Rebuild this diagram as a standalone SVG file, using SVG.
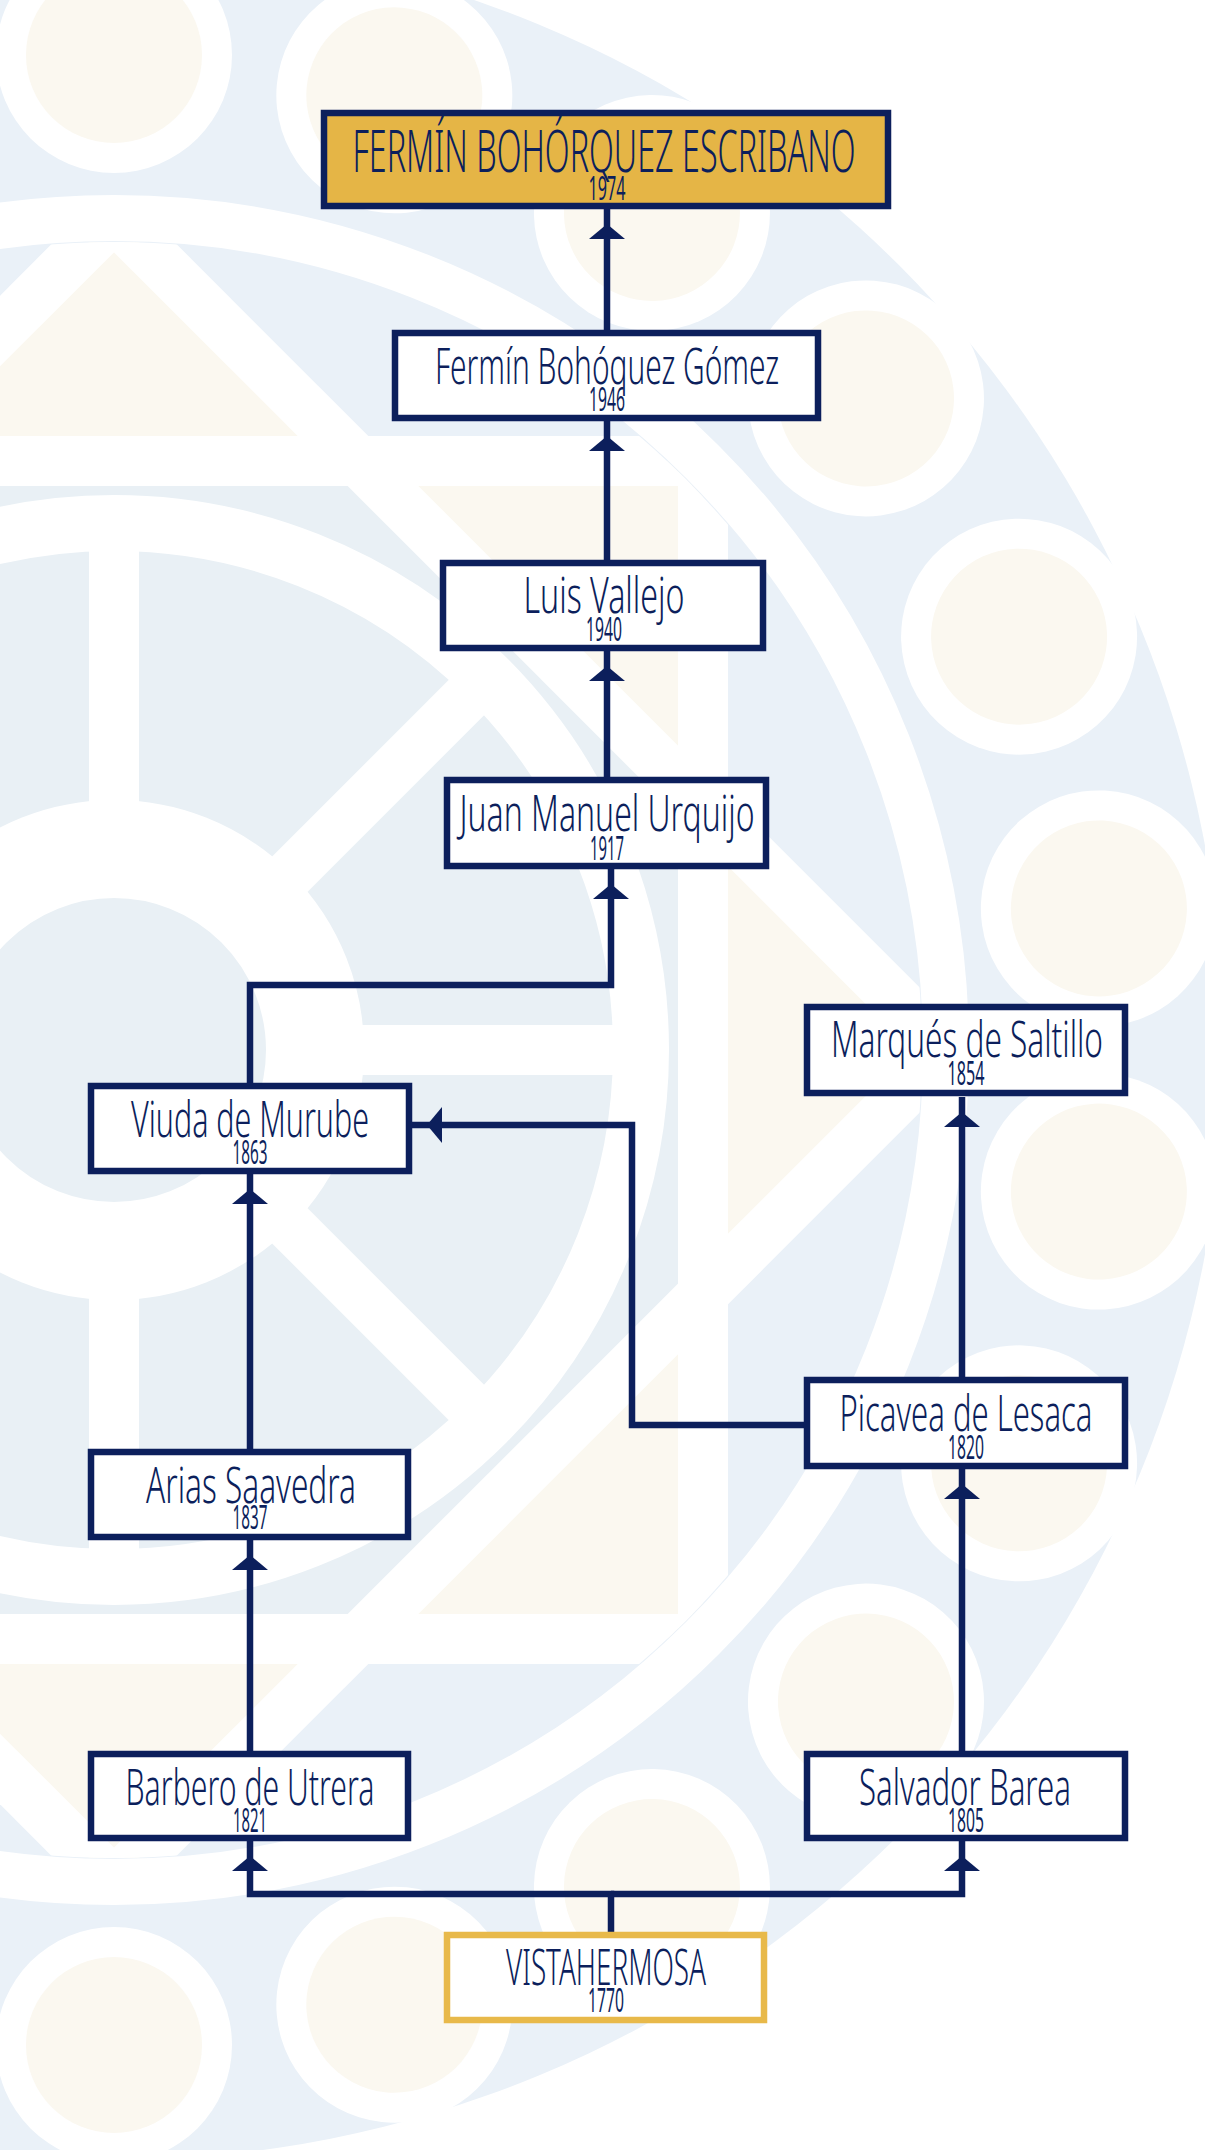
<svg xmlns="http://www.w3.org/2000/svg" width="1205" height="2150" viewBox="0 0 1205 2150">
<style>
.box{fill:#ffffff;stroke:#0C1F5C;stroke-width:6.5}
.gold{fill:#E5B546}
.vista{stroke:#E8B94A}
.n{font-family:"Noto Sans","DejaVu Sans","Liberation Sans",sans-serif;font-weight:350;font-stretch:62.5%;font-size:50px;fill:#0C1F5C;text-anchor:middle}
.t{font-size:58px}
.y{font-family:"Noto Sans","DejaVu Sans","Liberation Sans",sans-serif;font-weight:400;font-stretch:62.5%;font-size:32px;fill:#0C1F5C;text-anchor:middle}
.c{fill:none;stroke:#0C1F5C;stroke-width:6.5}
.wl{stroke:#ffffff;stroke-width:50;fill:none}
.rl{stroke:#ffffff;stroke-width:50;fill:none}
</style>
<defs>
<marker id="ah" markerUnits="userSpaceOnUse" viewBox="-40 -20 40 40" markerWidth="40" markerHeight="40" refX="0" refY="0" orient="auto">
<polygon points="-15,0 -30,-18 -30,18" fill="#0C1F5C"/>
</marker>
<clipPath id="inner"><circle cx="114" cy="1050" r="808"/></clipPath>
<g id="dot"><circle cx="0" cy="-995" r="118" fill="#ffffff"/><circle cx="0" cy="-995" r="88" fill="#FBF8F0"/></g>
</defs>
<g id="background">
<rect x="0" y="0" width="1205" height="2150" fill="#ffffff"/>
<circle cx="114" cy="1050" r="1110" fill="#EAF1F8"/>
<g clip-path="url(#inner)">
<rect x="-475" y="461" width="1178" height="1178" fill="#FBF8F0"/>
<polygon points="114,217 947,1050 114,1883 -719,1050" fill="#FBF8F0"/>
<polygon points="358,461 703,806 703,1294 358,1639 -130,1639 -475,1294 -475,806 -130,461" fill="#E9F0F5"/>
<circle cx="114" cy="1050" r="527" fill="none" stroke="#ffffff" stroke-width="56"/>
<circle cx="114" cy="1050" r="201" fill="none" stroke="#ffffff" stroke-width="98"/>
<g transform="translate(114,1050)">
<line class="rl" x1="0" y1="-240" x2="0" y2="-520"/>
<line class="rl" x1="0" y1="240" x2="0" y2="520"/>
<line class="rl" x1="240" y1="0" x2="520" y2="0"/>
<line class="rl" x1="-240" y1="0" x2="-520" y2="0"/>
<line class="rl" x1="170" y1="-170" x2="368" y2="-368"/>
<line class="rl" x1="170" y1="170" x2="368" y2="368"/>
<line class="rl" x1="-170" y1="-170" x2="-368" y2="-368"/>
<line class="rl" x1="-170" y1="170" x2="-368" y2="368"/>
</g>
<line class="wl" x1="-700" y1="461" x2="1300" y2="461"/>
<line class="wl" x1="-700" y1="1639" x2="1300" y2="1639"/>
<line class="wl" x1="703" y1="0" x2="703" y2="2150"/>
<line class="wl" x1="-700" y1="-597" x2="1300" y2="1403"/>
<line class="wl" x1="-700" y1="2697" x2="1300" y2="697"/>
<line class="wl" x1="-700" y1="1031" x2="1300" y2="-969"/>
<line class="wl" x1="-700" y1="1069" x2="1300" y2="3069"/>
</g>
<circle cx="114" cy="1050" r="832" fill="none" stroke="#ffffff" stroke-width="46"/>
<g transform="translate(114,1050)">
<use href="#dot" transform="rotate(0)"/>
<use href="#dot" transform="rotate(16.3636)"/>
<use href="#dot" transform="rotate(32.7273)"/>
<use href="#dot" transform="rotate(49.0909)"/>
<use href="#dot" transform="rotate(65.4545)"/>
<use href="#dot" transform="rotate(81.8182)"/>
<use href="#dot" transform="rotate(98.1818)"/>
<use href="#dot" transform="rotate(114.5455)"/>
<use href="#dot" transform="rotate(130.9091)"/>
<use href="#dot" transform="rotate(147.2727)"/>
<use href="#dot" transform="rotate(163.6364)"/>
<use href="#dot" transform="rotate(180)"/>
</g>
</g>
<g id="connectors">
<path class="c" d="M607,330 V209" marker-end="url(#ah)"/>
<path class="c" d="M607,560 V421" marker-end="url(#ah)"/>
<path class="c" d="M607,777 V651" marker-end="url(#ah)"/>
<path class="c" d="M250,1083 V985 H611 V869" marker-end="url(#ah)"/>
<path class="c" d="M250,1449 V1174" marker-end="url(#ah)"/>
<path class="c" d="M250,1751 V1540" marker-end="url(#ah)"/>
<path class="c" d="M804,1425 H632 V1125 H412" marker-end="url(#ah)"/>
<path class="c" d="M962,1377 V1097" marker-end="url(#ah)"/>
<path class="c" d="M962,1751 V1469" marker-end="url(#ah)"/>
<path class="c" d="M611,1932 V1894 H250 V1841" marker-end="url(#ah)"/>
<path class="c" d="M611,1894 H962 V1841" marker-end="url(#ah)"/>
</g>
<g id="n-fermin-escribano">
<rect class="box gold" x="324" y="113" width="564" height="93"/>
<text class="n t" x="604" y="172" textLength="503" lengthAdjust="spacingAndGlyphs">FERMÍN BOHÓRQUEZ ESCRIBANO</text>
<text class="y" x="607" y="200" textLength="37" lengthAdjust="spacingAndGlyphs">1974</text>
</g>
<g id="n-fermin-gomez">
<rect class="box" x="395" y="333" width="423" height="85"/>
<text class="n" x="607" y="384" textLength="344" lengthAdjust="spacingAndGlyphs">Fermín Bohóquez Gómez</text>
<text class="y" x="607" y="411" textLength="36" lengthAdjust="spacingAndGlyphs">1946</text>
</g>
<g id="n-luis-vallejo">
<rect class="box" x="443" y="563" width="320" height="85"/>
<text class="n" x="604" y="613" textLength="161" lengthAdjust="spacingAndGlyphs">Luis Vallejo</text>
<text class="y" x="604" y="641" textLength="36" lengthAdjust="spacingAndGlyphs">1940</text>
</g>
<g id="n-juan-manuel-urquijo">
<rect class="box" x="447" y="780" width="319" height="86"/>
<text class="n" x="607" y="831" textLength="295" lengthAdjust="spacingAndGlyphs">Juan Manuel Urquijo</text>
<text class="y" x="607" y="860" textLength="34" lengthAdjust="spacingAndGlyphs">1917</text>
</g>
<g id="n-marques-saltillo">
<rect class="box" x="807" y="1007" width="318" height="86"/>
<text class="n" x="967" y="1057" textLength="272" lengthAdjust="spacingAndGlyphs">Marqués de Saltillo</text>
<text class="y" x="966" y="1085" textLength="37" lengthAdjust="spacingAndGlyphs">1854</text>
</g>
<g id="n-viuda-murube">
<rect class="box" x="91" y="1086" width="318" height="85"/>
<text class="n" x="250" y="1137" textLength="238" lengthAdjust="spacingAndGlyphs">Viuda de Murube</text>
<text class="y" x="250" y="1164" textLength="35" lengthAdjust="spacingAndGlyphs">1863</text>
</g>
<g id="n-picavea-lesaca">
<rect class="box" x="807" y="1380" width="318" height="86"/>
<text class="n" x="966" y="1431" textLength="253" lengthAdjust="spacingAndGlyphs">Picavea de Lesaca</text>
<text class="y" x="966" y="1459" textLength="36" lengthAdjust="spacingAndGlyphs">1820</text>
</g>
<g id="n-arias-saavedra">
<rect class="box" x="91" y="1452" width="317" height="85"/>
<text class="n" x="251" y="1503" textLength="210" lengthAdjust="spacingAndGlyphs">Arias Saavedra</text>
<text class="y" x="250" y="1529" textLength="35" lengthAdjust="spacingAndGlyphs">1837</text>
</g>
<g id="n-barbero-utrera">
<rect class="box" x="91" y="1754" width="317" height="84"/>
<text class="n" x="250" y="1805" textLength="249" lengthAdjust="spacingAndGlyphs">Barbero de Utrera</text>
<text class="y" x="250" y="1832" textLength="34" lengthAdjust="spacingAndGlyphs">1821</text>
</g>
<g id="n-salvador-barea">
<rect class="box" x="807" y="1754" width="318" height="84"/>
<text class="n" x="965" y="1805" textLength="212" lengthAdjust="spacingAndGlyphs">Salvador Barea</text>
<text class="y" x="966" y="1832" textLength="36" lengthAdjust="spacingAndGlyphs">1805</text>
</g>
<g id="n-vistahermosa">
<rect class="box vista" x="447" y="1935" width="317" height="85"/>
<text class="n" x="606" y="1985" textLength="200" lengthAdjust="spacingAndGlyphs">VISTAHERMOSA</text>
<text class="y" x="606" y="2012" textLength="36" lengthAdjust="spacingAndGlyphs">1770</text>
</g>
</svg>
